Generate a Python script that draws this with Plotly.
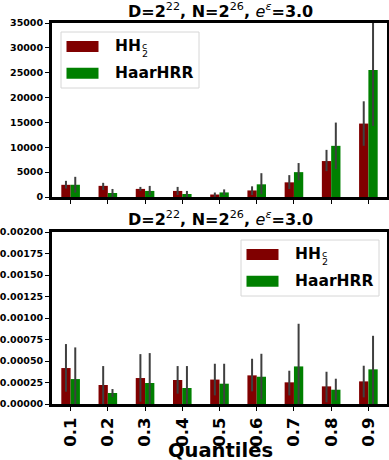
import plotly.graph_objects as go

# quantile categories
quantiles = ["0.1", "0.2", "0.3", "0.4", "0.5", "0.6", "0.7", "0.8", "0.9"]

# top panel: absolute error
hh_top = [2450, 2240, 1630, 1220, 500, 1320, 2950, 7230, 14770]
hh_top_lo = [1700, 1400, 1250, 400, 50, 400, 1600, 5200, 10300]
hh_top_hi = [3250, 2850, 2030, 2030, 900, 2150, 4400, 9480, 19250]
haar_top = [2460, 810, 1220, 610, 920, 2550, 5000, 10290, 25560]
haar_top_lo = [880, 0, 400, 0, 400, 550, 3360, 5600, 14300]
haar_top_hi = [4060, 1620, 2230, 1220, 1530, 4790, 6830, 14970, 36500]

# bottom panel: relative error
hh_bot = [0.000418, 0.000221, 0.000302, 0.000279, 0.000284, 0.000333, 0.000252, 0.000205, 0.000263]
hh_bot_lo = [0.000143, 0.0, 0.000027, 0.000120, 0.000100, 0.000147, 0.000100, 0.000020, 0.000077]
hh_bot_hi = [0.000697, 0.000441, 0.000580, 0.000441, 0.000468, 0.000526, 0.000387, 0.000375, 0.000445]
haar_bot = [0.000290, 0.000128, 0.000244, 0.000186, 0.000236, 0.000317, 0.000437, 0.000166, 0.000403]
haar_bot_lo = [0.0, 0.000081, 0.0, 0.0, 0.0, 0.000054, 0.0, 0.000043, 0.0]
haar_bot_hi = [0.000658, 0.000174, 0.000592, 0.000441, 0.000468, 0.000584, 0.000933, 0.000294, 0.000793]

FONT = "DejaVu Sans"
W, H = 389, 460
L, R, T, B = 52, 2, 23, 56
PW, PH = W - L - R, H - T - B
RED, GREEN, ECOL = "#800000", "#008000", "#3f3f3f"


def px(x):
    return (x - L) / PW


def py(y):
    return (H - B - y) / PH


def err(vals, lo, hi):
    return dict(type="data", symmetric=False,
                array=[h - v for v, h in zip(vals, hi)],
                arrayminus=[v - l for v, l in zip(vals, lo)],
                color=ECOL, thickness=2, width=0)


fig = go.Figure()
for vals, lo, hi, col, ax in [
    (hh_top, hh_top_lo, hh_top_hi, RED, ("x", "y")),
    (haar_top, haar_top_lo, haar_top_hi, GREEN, ("x", "y")),
    (hh_bot, hh_bot_lo, hh_bot_hi, RED, ("x2", "y2")),
    (haar_bot, haar_bot_lo, haar_bot_hi, GREEN, ("x2", "y2")),
]:
    fig.add_trace(go.Bar(x=quantiles, y=vals, marker=dict(color=col, line_width=0),
                         error_y=err(vals, lo, hi), xaxis=ax[0], yaxis=ax[1],
                         showlegend=False))

axis_common = dict(showline=True, linecolor="black", linewidth=3, mirror=True,
                   ticks="outside", ticklen=4, tickwidth=1, tickcolor="black",
                   showgrid=False, zeroline=False, automargin=False)

fig.update_layout(
    width=W, height=H,
    margin=dict(l=L, r=R, t=T, b=B),
    paper_bgcolor="white", plot_bgcolor="white",
    barmode="group", bargap=0.5, bargroupgap=0,
    font=dict(family=FONT, color="black"),
    xaxis=dict(**axis_common, domain=[0, 1], anchor="y", range=[-0.5, 8.5],
               showticklabels=False, type="category"),
    yaxis=dict(**axis_common, domain=[py(197), 1], anchor="x", range=[0, 35000],
               dtick=5000, tickformat="d",
               tickfont=dict(size=9.5, weight="bold")),
    xaxis2=dict(**axis_common, domain=[0, 1], anchor="y2", range=[-0.5, 8.5],
                type="category", tickangle=-90,
                tickfont=dict(size=16.5, weight="bold")),
    yaxis2=dict(**axis_common, domain=[0, py(232)], anchor="x2", range=[0, 0.002],
                dtick=0.00025, tickformat=".5f",
                tickfont=dict(size=9.5, weight="bold")),
)

fig.add_annotation(text="Quantiles", x=px(220), y=py(450), xref="paper", yref="paper",
                   xanchor="center", yanchor="middle", showarrow=False,
                   font=dict(size=19.5, weight="bold"))

title = ("D=2<sup><span style='font-weight:normal'>22</span></sup>, "
         "N=2<sup><span style='font-weight:normal'>26</span></sup>, "
         "<span style='font-weight:normal'><i>e</i></span>"
         "<sup><span style='font-weight:normal'><i>ε</i></span></sup>=3.0")
for yc in (10.5, 218.5):
    fig.add_annotation(text=title, x=px(220), y=py(yc), xref="paper", yref="paper",
                       xanchor="center", yanchor="middle", showarrow=False,
                       font=dict(size=16, weight="bold"))


def add_legend(x0, y0):
    fig.add_shape(type="rect", xref="paper", yref="paper",
                  x0=px(x0), x1=px(x0 + 138), y0=py(y0), y1=py(y0 + 56),
                  line=dict(color="#d6d6d6", width=1), fillcolor="white", layer="above")
    for dy, col in [(14.5, RED), (41.3, GREEN)]:
        fig.add_shape(type="rect", xref="paper", yref="paper",
                      x0=px(x0 + 5.5), x1=px(x0 + 37.5),
                      y0=py(y0 + dy - 5.5), y1=py(y0 + dy + 5.5),
                      line_width=0, fillcolor=col, layer="above")
    tx = x0 + 52
    fig.add_annotation(text="HH", x=px(tx), y=py(y0 + 14.5), xref="paper", yref="paper",
                       xanchor="left", yanchor="middle", showarrow=False,
                       font=dict(size=15.5, weight="bold"))
    fig.add_annotation(text="c", x=px(tx + 27), y=py(y0 + 13.5), xref="paper", yref="paper",
                       xanchor="left", yanchor="middle", showarrow=False,
                       font=dict(size=9.5))
    fig.add_annotation(text="2", x=px(tx + 27), y=py(y0 + 21.5), xref="paper", yref="paper",
                       xanchor="left", yanchor="middle", showarrow=False,
                       font=dict(size=9.5))
    fig.add_annotation(text="HaarHRR", x=px(tx), y=py(y0 + 41.3), xref="paper", yref="paper",
                       xanchor="left", yanchor="middle", showarrow=False,
                       font=dict(size=15.5, weight="bold"))


add_legend(61, 32)
add_legend(241, 240)

fig.write_html("out.html", config={"displayModeBar": False},
               post_script="document.body.style.margin='0';"
                           "document.body.style.overflow='hidden';")
